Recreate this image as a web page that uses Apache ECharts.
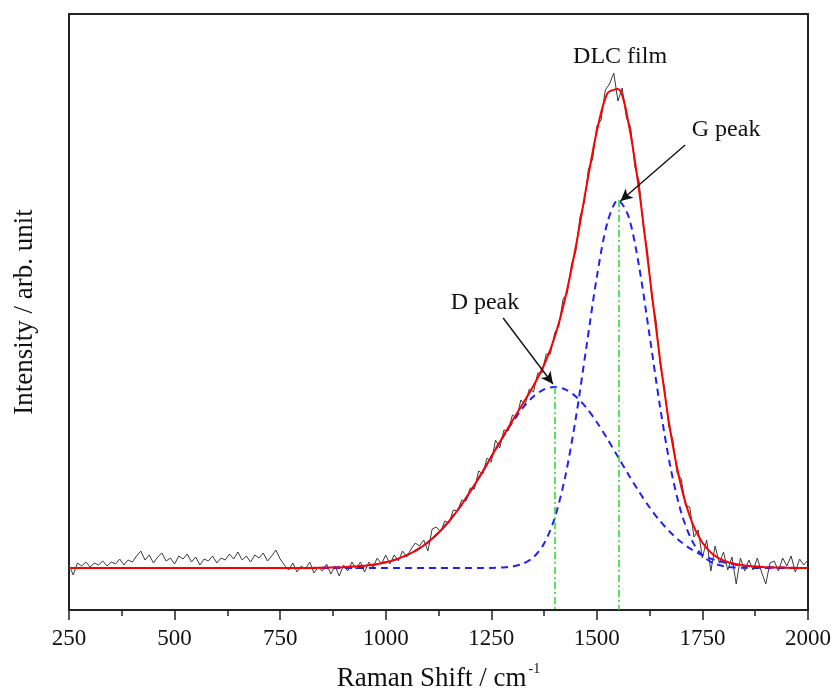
<!DOCTYPE html>
<html>
<head>
<meta charset="utf-8">
<script src="https://cdn.jsdelivr.net/npm/echarts@6/dist/echarts.min.js"></script>
<style>
html,body{margin:0;padding:0;background:#fff;}
#chart{width:835px;height:697px;}
</style>
</head>
<body>
<div id="chart"></div>
<script>
// ---- Raw Raman spectrum (measured, noisy), every 10 cm-1 ----
const rawShift = [250,260,270,280,290,300,310,320,330,340,350,360,370,380,390,
400,410,420,430,440,450,460,470,480,490,500,510,520,530,540,550,560,570,580,590,600,610,620,630,640,650,660,670,680,690,700,710,720,730,740,750,
760,770,780,790,800,810,820,830,840,850,860,870,880,890,900,
910,920,930,940,950,960,970,980,990,1000,
1010,1020,1030,1040,1050,1060,1070,1080,1090,1100,
1110,1120,1130,1140,1150,1160,1170,1180,1190,1200,
1210,1220,1230,1240,1250,1260,1270,1280,1290,1300,
1310,1320,1330,1340,1350,1360,1370,1380,1390,1400,
1410,1420,1430,1440,1450,1460,1470,1480,1490,1500,
1510,1520,1530,1540,1550,1560,1570,1580,1590,1600,
1610,1620,1630,1640,1650,1660,1670,1680,1690,1700,
1710,1720,1730,1740,1750,1760,1770,1780,1790,1800,
1810,1820,1830,1840,1850,1860,1870,1880,1890,1900,
1910,1920,1930,1940,1950,1960,1970,1980,1990,2000];
const rawIntensity = [3,-7,5,2,6,1,5,3,7,2,6,4,9,3,8,
6,12,17,8,13,5,11,15,7,10,4,12,9,14,6,11,3,9,7,12,5,10,8,14,9,16,8,12,6,13,10,15,7,12,18,9,
3,-2,5,-4,2,-1,6,-5,1,-3,4,-6,2,-8,3,
-3,6,-1,6,-4,6,1,10,4,13,
4,13,7,17,11,19,25,22,28,17,
39,41,36,47,45,58,57,68,67,80,
79,97,94,110,106,128,120,138,137,153,
150,168,163,179,176,195,195,214,214,235,
242,269,275,304,316,351,365,399,409,442,
448,478,484,495,467,480,450,441,401,387,
341,316,270,248,203,181,142,128,95,89,
62,61,31,38,10,28,-3,22,5,16,
-2,11,-16,10,-3,8,-2,10,-4,-16,
5,7,-3,10,2,12,-4,9,3,8];

// ---- Fitted curves, every 25 cm-1 ----
const fitShift = [250,275,300,325,350,375,400,425,450,475,500,525,550,575,600,625,650,675,700,725,750,775,800,
825,850,875,900,925,950,975,1000,1025,1050,1075,1100,1125,1150,1175,1200,1225,1250,1275,1300,1325,1350,1375,1400,
1425,1450,1475,1500,1525,1550,1575,1600,1625,1650,1675,1700,1725,1750,1775,1800,1825,1850,1875,1900,1925,1950,1975,2000];
const fitTotal = [0,0,0,0,0,0,0,0,0,0,0,0,0,0,0,0,0,0,0,0,0,0,0.1,
0.1,0.3,0.5,0.8,1.4,2.3,3.6,5.7,8.6,12.8,18.4,25.8,35.2,46.8,60.5,76.2,93.3,111.3,129.6,147.3,164.6,182.3,203.0,230.8,
269.7,321.0,380.6,437.0,474.6,479.1,444.8,377.7,292.5,207.1,134.5,81.0,46.0,25.2,13.6,7.5,4.2,2.5,1.4,0.8,0.5,0.3,0.1,0.1];
const dPeakFit = [0,0,0,0,0,0,0,0,0,0,0,0,0,0,0,0,0,0,0,0,0,0,0.1,
0.1,0.3,0.5,0.8,1.4,2.3,3.6,5.7,8.6,12.8,18.4,25.8,35.2,46.8,60.5,76.2,93.3,111.2,129.1,145.8,160.3,171.5,178.6,181,
178.6,171.5,160.3,145.8,129.1,111.2,93.3,76.2,60.5,46.8,35.2,25.8,18.4,12.8,8.6,5.7,3.6,2.3,1.4,0.8,0.5,0.3,0.1,0.1];
const gPeakFit = [0,0,0,0,0,0,0,0,0,0,0,0,0,0,0,0,0,0,0,0,0,0,0,
0,0,0,0,0,0,0,0,0,0,0,0,0,0,0,0,0,0.1,0.5,1.5,4.3,10.8,24.4,49.8,
91.1,149.5,220.3,291.2,345.5,367.9,351.5,301.5,232.0,160.3,99.3,55.2,27.6,12.4,5.0,1.8,0.6,0.2,0,0,0,0,0,0];

// ---- Peak positions and annotations ----
const peakCenters = [{name:'D', shift:1401, height:181}, {name:'G', shift:1552, height:368}];
const xTicks = {min:250, max:2000, interval:250};
const labels = [
  {text:'DLC film', at:[1555, 511]},
  {text:'G peak', at:[1806, 438]},
  {text:'D peak', at:[1235, 265]}
];
const arrows = [
  {from:[1709, 423], to:[1556, 367]},
  {from:[1278, 250], to:[1396, 184]}
];

const yMin = -42, yMax = 554;
const serif = 'Liberation Serif';

function pairs(xs, ys){ return xs.map((x,i)=>[x, ys[i]]); }

const chart = echarts.init(document.getElementById('chart'), null, {renderer:'canvas'});
const axisLine = {show:true, onZero:false, lineStyle:{color:'#222', width:2}};
chart.setOption({
  animation:false,
  backgroundColor:'#ffffff',
  grid:{left:69, right:27, top:14, bottom:87, containLabel:false},
  xAxis:[{
    type:'value', min:xTicks.min, max:xTicks.max, interval:xTicks.interval,
    position:'bottom',
    axisLine:axisLine,
    axisTick:{show:true, inside:false, length:10, lineStyle:{color:'#222', width:1.5}},
    minorTick:{show:true, splitNumber:2, length:6, lineStyle:{color:'#222', width:1.5}},
    splitLine:{show:false},
    axisLabel:{show:true, margin:17, fontFamily:serif, fontSize:23, color:'#111', formatter:v=>String(v)},
    name:'{a|Raman Shift / cm}{b|-1}',
    nameLocation:'middle', nameGap:52,
    nameTextStyle:{
      rich:{
        a:{fontFamily:serif, fontSize:27, color:'#111', verticalAlign:'bottom'},
        b:{fontFamily:serif, fontSize:14, color:'#111', verticalAlign:'bottom', padding:[0,0,16,2]}
      }
    }
  },{
    type:'value', min:xTicks.min, max:xTicks.max, position:'top',
    axisLine:axisLine, axisTick:{show:false}, axisLabel:{show:false}, splitLine:{show:false}
  }],
  yAxis:[{
    type:'value', min:yMin, max:yMax, position:'left',
    axisLine:axisLine, axisTick:{show:false}, axisLabel:{show:false}, splitLine:{show:false},
    name:'Intensity / arb. unit', nameLocation:'middle', nameGap:31,
    nameTextStyle:{fontFamily:serif, fontSize:27, color:'#111'}
  },{
    type:'value', min:yMin, max:yMax, position:'right',
    axisLine:axisLine, axisTick:{show:false}, axisLabel:{show:false}, splitLine:{show:false}
  }],
  series:[
    {
      name:'raw', type:'line', data:pairs(rawShift, rawIntensity),
      showSymbol:false, symbol:'none', smooth:false,
      lineStyle:{color:'#3a3a3a', width:1}, z:2, silent:true,
      markLine:{
        silent:true, symbol:['none','none'],
        lineStyle:{color:'#22dd22', width:1.5, type:[7,3,2,3]},
        label:{show:false},
        data: peakCenters.map(p=>[{coord:[p.shift, p.height]},{coord:[p.shift, yMin]}])
      }
    },
    {
      name:'D peak', type:'line', data:pairs(fitShift, dPeakFit),
      showSymbol:false, symbol:'none', smooth:0.3,
      lineStyle:{color:'#1f1fff', width:2, type:[7,5]}, z:3, silent:true
    },
    {
      name:'G peak', type:'line', data:pairs(fitShift, gPeakFit),
      showSymbol:false, symbol:'none', smooth:0.3,
      lineStyle:{color:'#1f1fff', width:2, type:[7,5]}, z:3, silent:true
    },
    {
      name:'fit', type:'line', data:pairs(fitShift, fitTotal),
      showSymbol:false, symbol:'none', smooth:0.3,
      lineStyle:{color:'#ff0000', width:2}, z:4, silent:true,
      markLine:{
        silent:true, symbol:['none','arrow'], symbolSize:[9,12],
        lineStyle:{color:'#111', width:1.4, type:'solid'},
        label:{show:false},
        data: arrows.map(a=>[{coord:a.from},{coord:a.to}])
      },
      markPoint:{
        silent:true, symbol:'circle', symbolSize:1,
        itemStyle:{color:'rgba(0,0,0,0)'},
        label:{show:true, position:'inside', formatter:'{b}', fontFamily:serif, fontSize:24, color:'#111'},
        data: labels.map(l=>({name:l.text, coord:l.at}))
      }
    }
  ]
});
</script>
</body>
</html>
